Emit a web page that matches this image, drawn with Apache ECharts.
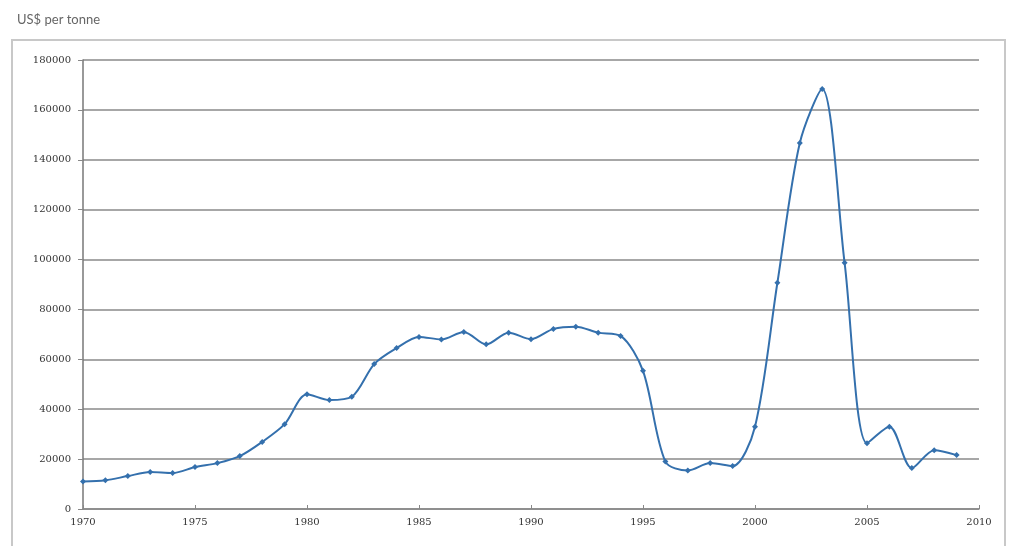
<!DOCTYPE html>
<html>
<head>
<meta charset="utf-8">
<script src="https://cdn.jsdelivr.net/npm/echarts@6/dist/echarts.min.js"></script>
<style>
  html, body { margin: 0; padding: 0; background: #fff; }
  #chart { width: 1009px; height: 546px; }
</style>
</head>
<body>
<div id="chart"></div>
<script>
// years and prices (US$ per tonne)
const years = [1970, 1971, 1972, 1973, 1974, 1975, 1976, 1977, 1978, 1979,
  1980, 1981, 1982, 1983, 1984, 1985, 1986, 1987, 1988, 1989,
  1990, 1991, 1992, 1993, 1994, 1995, 1996, 1997, 1998, 1999,
  2000, 2001, 2002, 2003, 2004, 2005, 2006, 2007, 2008, 2009]
const prices = [11000, 11500, 13200, 14800, 14400, 16800, 18400, 21200, 26900, 34000,
  46000, 43700, 45000, 58100, 64500, 69000, 68000, 71000, 66000, 70700,
  68100, 72200, 73100, 70700, 69400, 55400, 19000, 15400, 18400, 17200,
  33000, 90700, 146700, 168400, 98700, 26400, 33000, 16400, 23600, 21600]
const yTicks = [0, 20000, 40000, 60000, 80000, 100000, 120000, 140000, 160000, 180000]

const chart = echarts.init(document.getElementById('chart'))
const option = {
  animation: false,
  backgroundColor: '#fff',
  title: {
    text: 'US$ per tonne',
    left: 12,
    top: 8,
    textStyle: { fontFamily: 'Lato', fontSize: 13, fontWeight: 'normal', color: '#666' }
  },
  graphic: [{
    type: 'rect',
    shape: { x: 12, y: 40, width: 993, height: 510 },
    style: { fill: 'none', stroke: '#c8c8c8', lineWidth: 2 },
    silent: true
  }],
  grid: { left: 83, right: 30, top: 60, bottom: 37 },
  xAxis: {
    type: 'value',
    min: 1970,
    max: 2010,
    interval: 5,
    axisLine: { lineStyle: { color: '#888', width: 1.5 } },
    axisTick: { show: true, inside: true, length: 4, lineStyle: { color: '#888' } },
    axisLabel: { fontFamily: 'DejaVu Serif', fontSize: 10, color: '#333', margin: 8, formatter: v => String(v) },
    splitLine: { show: false }
  },
  yAxis: {
    type: 'value',
    min: yTicks[0],
    max: yTicks[yTicks.length - 1],
    interval: 20000,
    axisLine: { show: true, lineStyle: { color: '#777', width: 1.5 } },
    axisTick: { show: true, length: 5, lineStyle: { color: '#888' } },
    axisLabel: { fontFamily: 'DejaVu Serif', fontSize: 10, color: '#333', margin: 12, formatter: v => String(v) },
    splitLine: { lineStyle: { color: '#8a8a8a', width: 1.5 } }
  },
  series: [{
    type: 'line',
    data: years.map((y, i) => [y, prices[i]]),
    smooth: 0.3,
    symbol: 'diamond',
    symbolSize: 6,
    lineStyle: { color: '#3470ad', width: 2 },
    itemStyle: { color: '#3470ad' }
  }]
}
chart.setOption(option)
</script>
</body>
</html>
